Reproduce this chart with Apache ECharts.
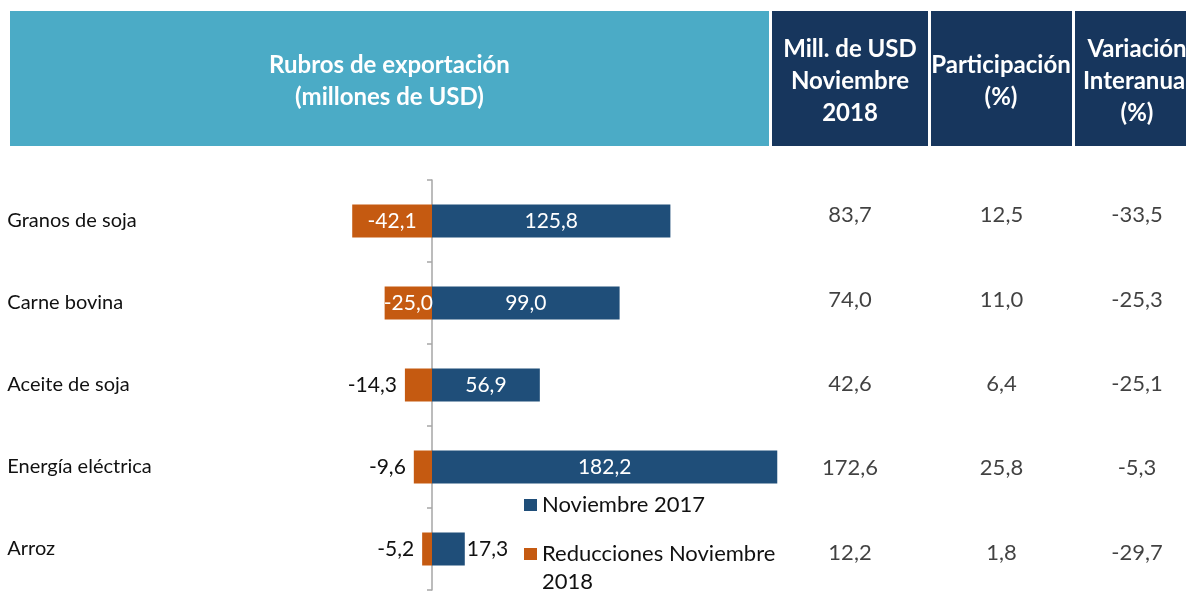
<!DOCTYPE html>
<html>
<head>
<meta charset="utf-8">
<script src="https://cdn.jsdelivr.net/npm/echarts@6/dist/echarts.min.js"></script>
<style>
html,body{margin:0;padding:0;background:#fff;}
#chart{width:1186px;height:591px;}
</style>
</head>
<body>
<div id="chart"></div>
<script>
// ---- data ----
const categories = ['Granos de soja', 'Carne bovina', 'Aceite de soja', 'Energía eléctrica', 'Arroz'];
const nov2017 = [125.8, 99.0, 56.9, 182.2, 17.3];
const reducciones = [-42.1, -25.0, -14.3, -9.6, -5.2];
const millUSDNov2018 = [83.7, 74.0, 42.6, 172.6, 12.2];
const participacion = [12.5, 11.0, 6.4, 25.8, 1.8];
const variacionInteranual = [-33.5, -25.3, -25.1, -5.3, -29.7];
const seriesNames = ['Noviembre 2017', 'Reducciones Noviembre 2018'];
const mainHeader = 'Rubros de exportación\n(millones de USD)';
const colHeaders = ['Mill. de USD\nNoviembre\n2018', 'Participación\n(%)', 'Variación\nInteranual\n(%)'];

// ---- style ----
const FONT = 'Lato, "Open Sans", sans-serif';
const BLUE = '#1F4E79';
const ORANGE = '#C55A11';
const fmt = v => v.toFixed(1).replace('.', ',');

const chart = echarts.init(document.getElementById('chart'));

function barData(vals, side) {
  return vals.map(v => {
    const inside = Math.abs(v) >= 20;
    return {
      value: v,
      label: inside
        ? { position: 'inside', color: '#fff' }
        : { position: side, color: '#111', distance: side === 'right' ? 2 : 8 }
    };
  });
}

const tableCols = [
  { left: 772, width: 156, vals: millUSDNov2018 },
  { left: 931, width: 141, vals: participacion },
  { left: 1087, width: 100, vals: variacionInteranual }
];

const grids = [{ left: 318.3, width: 492.7, top: 180, height: 410, containLabel: false, outerBoundsMode: 'none' }];
const xAxes = [{ type: 'value', min: -60, max: 200, show: false, gridIndex: 0 }];
const yAxes = [{
  type: 'category', data: categories, inverse: true, gridIndex: 0,
  axisLine: { onZero: true, lineStyle: { color: '#A6A6A6', width: 1.5 } },
  axisTick: { show: true, length: 5, lineStyle: { color: '#A6A6A6', width: 1.5 } },
  axisLabel: { align: 'left', margin: 311, color: '#111', fontSize: 20, fontFamily: FONT },
  splitLine: { show: false }
}];
const series = [
  {
    name: seriesNames[0], type: 'bar', stack: 'tot', data: barData(nov2017, 'right'),
    barWidth: 33, itemStyle: { color: BLUE },
    label: { show: true, fontSize: 21, fontFamily: FONT, formatter: p => fmt(p.value) }
  },
  {
    name: seriesNames[1], type: 'bar', stack: 'tot', data: barData(reducciones, 'left'),
    barWidth: 33, itemStyle: { color: ORANGE },
    label: { show: true, fontSize: 21, fontFamily: FONT, formatter: p => fmt(p.value) }
  }
];

tableCols.forEach((c, i) => {
  const gi = i + 1;
  grids.push({ left: c.left, width: c.width, top: 173, height: 422, containLabel: false, outerBoundsMode: 'none' });
  xAxes.push({ type: 'category', data: [colHeaders[i]], show: false, gridIndex: gi });
  yAxes.push({ type: 'category', data: categories, inverse: true, show: false, gridIndex: gi });
  series.push({
    type: 'scatter', xAxisIndex: gi, yAxisIndex: gi, silent: true,
    symbolSize: 0,
    data: c.vals.map((v, k) => [colHeaders[i], categories[k], v]),
    label: {
      show: true, position: 'inside', color: '#111', fontSize: 22, fontFamily: FONT,
      formatter: p => fmt(p.value[2])
    }
  });
});

const headerBoxes = [
  { x: 10, w: 759, color: '#4BABC6', text: mainHeader, cx: 389.5, lh: 32 },
  { x: 772, w: 156, color: '#17365D', text: colHeaders[0], cx: 850, lh: 32 },
  { x: 931, w: 141, color: '#17365D', text: colHeaders[1], cx: 1001, lh: 32 },
  { x: 1075, w: 120, color: '#17365D', text: colHeaders[2], cx: 1137, lh: 32 }
];
const graphic = [];
headerBoxes.forEach(b => {
  graphic.push({ type: 'rect', shape: { x: b.x, y: 11, width: b.w, height: 135 }, style: { fill: b.color }, silent: true, z: 0 });
  graphic.push({
    type: 'text', silent: true, z: 1,
    style: { text: b.text, x: b.cx, y: 81, textAlign: 'center', textVerticalAlign: 'middle',
             fill: '#fff', fontSize: 24, fontWeight: 'bold', fontFamily: FONT, lineHeight: b.lh }
  });
});

chart.setOption({
  animation: false,
  backgroundColor: '#fff',
  textStyle: { fontFamily: FONT },
  grid: grids,
  xAxis: xAxes,
  yAxis: yAxes,
  graphic: graphic,
  legend: [
    {
      data: [seriesNames[0]], left: 524, top: 493, padding: 0,
      itemWidth: 13, itemHeight: 12, icon: 'rect',
      textStyle: { fontSize: 22, color: '#111', fontFamily: FONT, lineHeight: 24 }
    },
    {
      data: [seriesNames[1]], left: 524, top: 512, padding: 0,
      itemWidth: 13, itemHeight: 12, icon: 'rect',
      formatter: () => ' \nReducciones Noviembre\n2018',
      textStyle: { fontSize: 22, color: '#111', fontFamily: FONT, lineHeight: 28 }
    }
  ],
  series: series
});
</script>
</body>
</html>
